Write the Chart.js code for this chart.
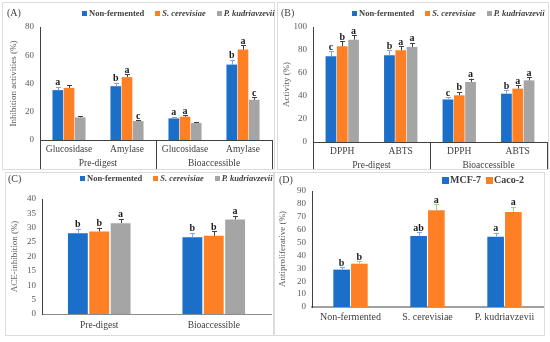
<!DOCTYPE html>
<html>
<head>
  <title>Bioactivity panels</title>
  <script src="https://cdn.jsdelivr.net/npm/chart.js"></script>
  <style>
    body {
      margin: 0;
      background: #ffffff;
      width: 550px;
      height: 342px;
      position: relative;
      overflow: hidden;
      font-family: "Liberation Serif", "Times New Roman", serif;
    }
    .panel {
      position: absolute;
      border: 1px solid #dcdcdc;
      box-sizing: border-box;
    }
    .panel canvas { display: block; }
    .tag {
      position: absolute;
      font-size: 10px;
      color: #404040;
      line-height: 11px;
    }
    .legend {
      position: absolute;
      display: flex;
      align-items: center;
      white-space: nowrap;
      font-size: 8.5px;
      line-height: 10px;
      font-weight: bold;
      color: #404040;
    }
    .legend .item { display: flex; align-items: center; margin-right: 11px; }
    .legend .box { display: inline-block; width: 5px; height: 5px; margin-right: 2px; }
    #legendD { font-size: 10px; line-height: 12px; }
    #legendD .item { margin-right: 5px; }
    #legendD .box { width: 7px; height: 7px; margin-right: 1px; }
  </style>
</head>
<body>
  <div class="panel" style="left:2px; top:2px; width:273px; height:168px;">
    <canvas id="chartA" width="271" height="166"></canvas>
    <div class="tag" style="left:4px; top:4px;">(A)</div>
    <div class="legend" id="legendA" style="left:79px; top:5px;"></div>
  </div>
  <div class="panel" style="left:277px; top:2px; width:272px; height:168px;">
    <canvas id="chartB" width="270" height="166"></canvas>
    <div class="tag" style="left:3px; top:4px;">(B)</div>
    <div class="legend" id="legendB" style="left:74px; top:5px;"></div>
  </div>
  <div class="panel" style="left:5px; top:172px; width:269px; height:164px;">
    <canvas id="chartC" width="267" height="162"></canvas>
    <div class="tag" style="left:2px; top:0px;">(C)</div>
    <div class="legend" id="legendC" style="left:74px; top:0px;"></div>
  </div>
  <div class="panel" style="left:274px; top:172px; width:271px; height:164px;">
    <canvas id="chartD" width="269" height="162"></canvas>
    <div class="tag" style="left:4px; top:1px;">(D)</div>
    <div class="legend" id="legendD" style="left:167px; top:1px;"></div>
  </div>

  <script>
    // ---- data ----------------------------------------------------------
    const seriesNames = ['Non-fermented', 'S. cerevisiae', 'P. kudriavzevii'];
    const digestGroups = ['Pre-digest', 'Bioaccessible'];

    // (A) enzyme inhibition
    const enzymeLabels = ['Glucosidase', 'Amylase', 'Glucosidase', 'Amylase'];
    const inhibNF = [35.3, 38.1, 15.3, 53.4];
    const inhibSC = [36.9, 44.5, 16.5, 64.0];
    const inhibPK = [16.0, 13.4, 12.0, 28.5];
    const inhibErrNF = [2.3, 2.4, 1.0, 3.5];
    const inhibErrSC = [1.9, 2.1, 1.0, 3.0];
    const inhibErrPK = [0.8, 0.7, 0.6, 1.6];
    const inhibLetNF = ['a', 'b', 'a', 'b'];
    const inhibLetSC = ['', 'a', 'a', 'a'];
    const inhibLetPK = ['', 'c', '', 'c'];

    // (B) antioxidant activity
    const assayLabels = ['DPPH', 'ABTS', 'DPPH', 'ABTS'];
    const actNF = [74.5, 75.4, 37.0, 42.0];
    const actSC = [83.2, 79.7, 40.6, 46.4];
    const actPK = [89.0, 82.6, 52.2, 53.6];
    const actErrNF = [4.6, 4.3, 2.0, 2.9];
    const actErrSC = [4.6, 3.5, 2.9, 2.9];
    const actErrPK = [3.8, 3.5, 2.9, 2.9];
    const actLetNF = ['c', 'b', 'c', 'b'];
    const actLetSC = ['b', 'a', 'b', 'a'];
    const actLetPK = ['a', 'a', 'a', 'a'];

    // (C) ACE inhibition
    const aceNF = [28.1, 26.7];
    const aceSC = [28.7, 27.2];
    const acePK = [31.6, 32.9];
    const aceErrNF = [1.6, 1.5];
    const aceErrSC = [1.3, 1.6];
    const aceErrPK = [1.5, 1.2];
    const aceLetNF = ['b', 'b'];
    const aceLetSC = ['b', 'b'];
    const aceLetPK = ['a', 'a'];

    // (D) antiproliferative
    const cellLines = ['MCF-7', 'Caco-2'];
    const mcf7 = [29.0, 55.0, 54.6];
    const caco2 = [33.6, 75.0, 73.7];
    const mcf7Err = [2.0, 3.0, 3.0];
    const caco2Err = [2.0, 4.6, 4.0];
    const mcf7Let = ['b', 'ab', 'a'];
    const caco2Let = ['b', 'a', 'a'];

    // ---- styling -------------------------------------------------------
    const SERIF = '"Liberation Serif", "Times New Roman", serif';
    const BLUE = '#1C6FC8';
    const ORANGE = '#FF7F24';
    const GREY = '#A5A5A5';
    const LIGHT_BLUE = '#7EA6E8';
    const DARK = '#404040';
    Chart.defaults.font.family = SERIF;
    Chart.defaults.color = '#595959';

    // error bars + significance letters, placed through the y scale
    const errorBarPlugin = {
      id: 'errorBars',
      afterDatasetsDraw(chart) {
        const ctx = chart.ctx;
        const yScale = chart.scales.y;
        chart.data.datasets.forEach((ds, i) => {
          const meta = chart.getDatasetMeta(i);
          meta.data.forEach((bar, j) => {
            const yTop = yScale.getPixelForValue(ds.data[j] + ds.errors[j]);
            const x = Math.round(bar.x) + 0.5;
            ctx.save();
            ctx.strokeStyle = ds.errorColor;
            ctx.lineWidth = 1;
            ctx.beginPath();
            ctx.moveTo(x, bar.y);
            ctx.lineTo(x, yTop);
            ctx.moveTo(x - 2.5, Math.round(yTop) + 0.5);
            ctx.lineTo(x + 2.5, Math.round(yTop) + 0.5);
            ctx.stroke();
            if (ds.letters[j]) {
              ctx.fillStyle = '#1a1a1a';
              ctx.font = 'bold 10px ' + SERIF;
              ctx.textAlign = 'center';
              ctx.textBaseline = 'alphabetic';
              ctx.fillText(ds.letters[j], bar.x, yTop - 1.5);
            }
            ctx.restore();
          });
        });
      }
    };

    // vertical separators between the digestion groups
    const groupLinePlugin = {
      id: 'groupLines',
      afterDraw(chart, args, opts) {
        if (!opts.groups) return;
        const x = chart.scales.x;
        const ctx = chart.ctx;
        ctx.save();
        ctx.strokeStyle = '#404040';
        ctx.lineWidth = 1;
        for (let g = 0; g <= opts.groups; g++) {
          const px = Math.round(x.left + (x.right - x.left) * g / opts.groups) + 0.5;
          ctx.beginPath();
          ctx.moveTo(px, chart.chartArea.bottom);
          ctx.lineTo(px, chart.height);
          ctx.stroke();
        }
        ctx.restore();
      }
    };

    function makeChart(id, cfg) {
      const scales = {
        x: {
          offset: true,
          grid: { display: false, drawTicks: false },
          border: { color: cfg.xBorderColor || '#404040', width: cfg.xBorderWidth || 1 },
          ticks: {
            padding: cfg.xPad, color: '#404040', autoSkip: false, maxRotation: 0,
            font: { size: cfg.xFont || 9.5 }
          },
          afterFit: s => { s.height = cfg.xHeight; }
        },
        y: {
          min: 0,
          max: cfg.yMax,
          grid: { display: false, drawTicks: false },
          border: { color: '#404040' },
          ticks: { stepSize: cfg.yStep, autoSkip: false, padding: 6, color: '#595959', font: { size: 9 } },
          title: {
            display: true, text: cfg.yTitle, color: '#595959',
            font: { size: 9 }, padding: { top: cfg.titlePad, bottom: 0 }
          },
          afterFit: s => { s.width = cfg.yWidth; }
        }
      };
      if (cfg.groups) {
        scales.x2 = {
          type: 'category',
          labels: cfg.groups,
          offset: true,
          position: 'bottom',
          grid: { display: false, drawTicks: false },
          border: { display: false },
          ticks: { padding: cfg.x2Pad, color: '#404040', maxRotation: 0, font: { size: 9.5 } },
          afterFit: s => { s.height = cfg.x2Height; }
        };
      }
      return new Chart(document.getElementById(id), {
        type: 'bar',
        data: { labels: cfg.labels, datasets: cfg.datasets },
        options: {
          responsive: false,
          animation: false,
          categoryPercentage: cfg.catPct,
          barPercentage: cfg.barPct,
          layout: { padding: { top: cfg.top, right: cfg.right, left: 0, bottom: 0 } },
          plugins: {
            legend: { display: false },
            tooltip: { enabled: false },
            groupLines: { groups: cfg.groups ? cfg.groups.length : 0 }
          },
          scales: scales
        },
        plugins: [errorBarPlugin, groupLinePlugin]
      });
    }

    function bars(label, data, color, errors, errorColor, letters) {
      return { label, data, backgroundColor: color, errors, errorColor, letters, borderWidth: 0 };
    }

    function htmlLegend(elId, chart, italic) {
      const el = document.getElementById(elId);
      chart.data.datasets.forEach((ds, i) => {
        const item = document.createElement('span');
        item.className = 'item';
        const box = document.createElement('span');
        box.className = 'box';
        box.style.background = ds.backgroundColor;
        const txt = document.createElement('span');
        txt.textContent = ds.label;
        if (italic && i > 0) txt.style.fontStyle = 'italic';
        item.appendChild(box);
        item.appendChild(txt);
        el.appendChild(item);
      });
    }

    const chartA = makeChart('chartA', {
      labels: enzymeLabels, groups: digestGroups,
      datasets: [
        bars(seriesNames[0], inhibNF, BLUE, inhibErrNF, LIGHT_BLUE, inhibLetNF),
        bars(seriesNames[1], inhibSC, ORANGE, inhibErrSC, DARK, inhibLetSC),
        bars(seriesNames[2], inhibPK, GREY, inhibErrPK, DARK, inhibLetPK)
      ],
      yMax: 80, yStep: 20, yTitle: 'Inhibition activities (%)', yWidth: 37, titlePad: 5.5,
      top: 24, right: 2, xHeight: 14, x2Height: 15, xPad: 4, x2Pad: 4,
      catPct: 0.58, barPct: 0.95
    });
    htmlLegend('legendA', chartA, true);

    const chartB = makeChart('chartB', {
      labels: assayLabels, groups: digestGroups,
      datasets: [
        bars(seriesNames[0], actNF, BLUE, actErrNF, LIGHT_BLUE, actLetNF),
        bars(seriesNames[1], actSC, ORANGE, actErrSC, DARK, actLetSC),
        bars(seriesNames[2], actPK, GREY, actErrPK, DARK, actLetPK)
      ],
      yMax: 100, yStep: 20, yTitle: 'Activity (%)', yWidth: 35, titlePad: 3.5,
      top: 24, right: 1, xHeight: 13, x2Height: 14, xPad: 3.5, x2Pad: 4.5,
      catPct: 0.58, barPct: 0.95
    });
    htmlLegend('legendB', chartB, true);

    const chartC = makeChart('chartC', {
      labels: digestGroups,
      datasets: [
        bars(seriesNames[0], aceNF, BLUE, aceErrNF, LIGHT_BLUE, aceLetNF),
        bars(seriesNames[1], aceSC, ORANGE, aceErrSC, DARK, aceLetSC),
        bars(seriesNames[2], acePK, GREY, aceErrPK, DARK, aceLetPK)
      ],
      yMax: 40, yStep: 5, yTitle: 'ACE-inhibition (%)', yWidth: 36, titlePad: 3.5,
      top: 26, right: 2, xHeight: 21, xPad: 5.5,
      xBorderColor: '#8C8C8C', xBorderWidth: 1,
      catPct: 0.56, barPct: 0.93
    });
    htmlLegend('legendC', chartC, true);

    const chartD = makeChart('chartD', {
      labels: seriesNames,
      datasets: [
        bars(cellLines[0], mcf7, BLUE, mcf7Err, LIGHT_BLUE, mcf7Let),
        bars(cellLines[1], caco2, ORANGE, caco2Err, '#8EDC78', caco2Let)
      ],
      yMax: 90, yStep: 10, yTitle: 'Antiproliferative (%)', yWidth: 37, titlePad: 2.5,
      top: 18, right: 1, xHeight: 28, xPad: 4, xFont: 10,
      xBorderColor: '#A0A0A0', xBorderWidth: 2,
      catPct: 0.46, barPct: 0.94
    });
    htmlLegend('legendD', chartD, false);
  </script>
</body>
</html>
